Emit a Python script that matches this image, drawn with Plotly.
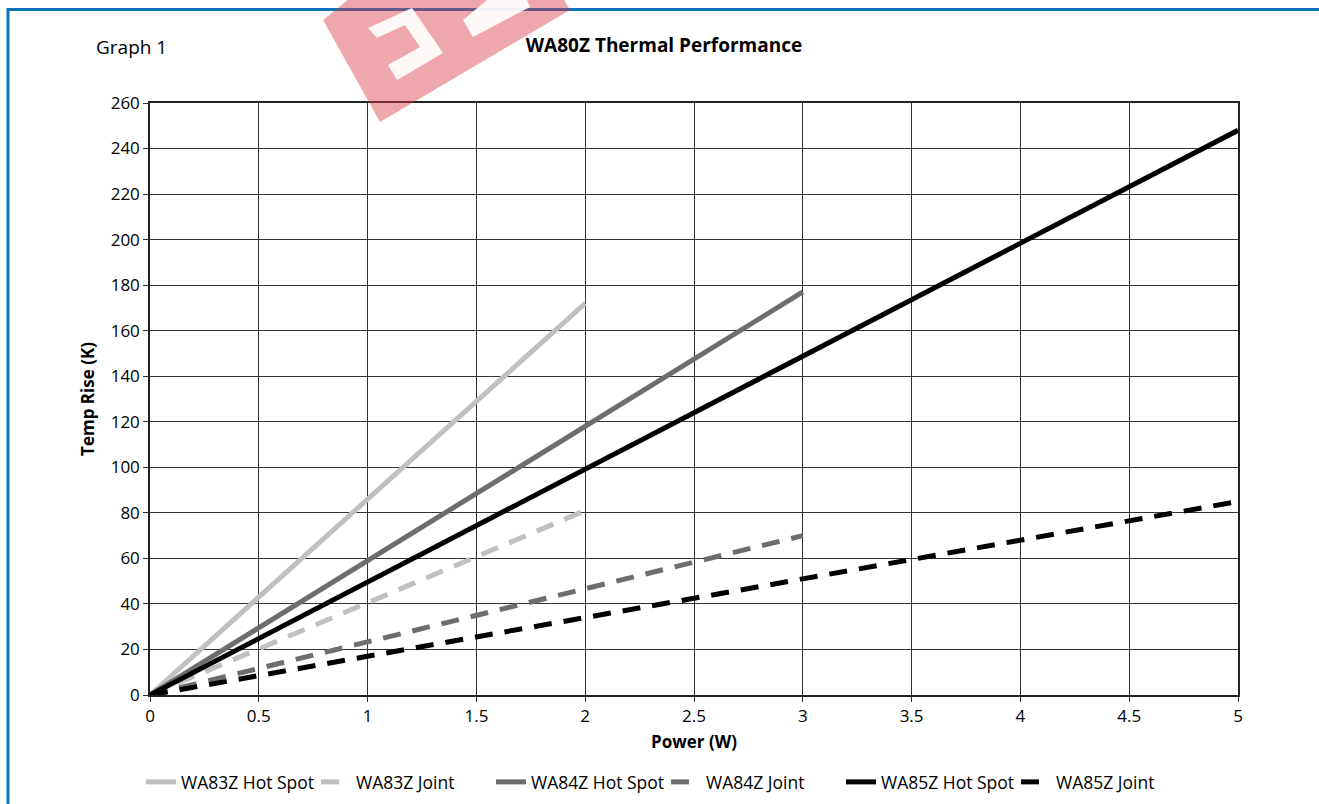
import plotly.graph_objects as go

# ---- data ----
wa83_power = [0, 0.5, 1.0, 1.5, 2.0]
wa83_hot = [0, 43, 86, 129, 172]
wa83_joint = [0, 20.3, 40.5, 60.8, 81]

wa84_power = [0, 0.5, 1.0, 1.5, 2.0, 2.5, 3.0]
wa84_hot = [0, 29.5, 59, 88.5, 118, 147.5, 177]
wa84_joint = [0, 11.7, 23.4, 35, 46.7, 58.4, 70]

wa85_power = [0, 0.5, 1.0, 1.5, 2.0, 2.5, 3.0, 3.5, 4.0, 4.5, 5.0]
wa85_hot = [0, 24.8, 49.6, 74.4, 99.2, 124, 148.8, 173.6, 198.4, 223.2, 248]
wa85_joint = [0, 8.5, 17, 25.5, 34, 42.5, 51, 59.5, 68, 76.5, 85]

x_ticks = [0, 0.5, 1, 1.5, 2, 2.5, 3, 3.5, 4, 4.5, 5]
x_tick_labels = ["0", "0.5", "1", "1.5", "2", "2.5", "3", "3.5", "4", "4.5", "5"]
y_ticks = list(range(0, 261, 20))

W, H = 1319, 804
L, R, T, B = 150, 1238, 103, 695
FONT = "Open Sans"

LIGHT = "#c0c0c0"
MID = "#6d6d6d"
DARK = "#000000"
DASH = "18px,12px"

fig = go.Figure()
series = [
    ("WA83Z Hot Spot", wa83_power, wa83_hot, LIGHT, "solid"),
    ("WA83Z Joint", wa83_power, wa83_joint, LIGHT, DASH),
    ("WA84Z Hot Spot", wa84_power, wa84_hot, MID, "solid"),
    ("WA84Z Joint", wa84_power, wa84_joint, MID, DASH),
    ("WA85Z Hot Spot", wa85_power, wa85_hot, DARK, "solid"),
    ("WA85Z Joint", wa85_power, wa85_joint, DARK, DASH),
]
for name, xs, ys, col, dash in series:
    fig.add_trace(go.Scatter(x=xs, y=ys, mode="lines", name=name,
                             line=dict(color=col, width=5, dash=dash)))


def px(xp):
    return (xp - L) / (R - L)


def py(yp):
    return (B - yp) / (B - T)


def poly(pts):
    return "M " + " L ".join(f"{px(a):.5f},{py(b):.5f}" for a, b in pts) + " Z"


shapes = [
    # blue frame
    dict(type="line", xref="paper", yref="paper", x0=px(8), x1=px(1319), y0=py(9.5), y1=py(9.5),
         line=dict(color="#0a72b8", width=3), layer="above"),
    dict(type="line", xref="paper", yref="paper", x0=px(8), x1=px(8), y0=py(8), y1=py(804),
         line=dict(color="#0a72b8", width=3), layer="above"),
    # watermark
    dict(type="path", xref="paper", yref="paper",
         path=poly([(323, 20), (380, 122), (570, 10), (563, -2), (350, -2)]),
         fillcolor="rgba(220,60,75,0.45)", line=dict(width=0), layer="above"),
    dict(type="path", xref="paper", yref="paper",
         path=poly([(368, 28), (412, 8), (443, 53), (397, 80), (388, 65), (420, 47), (405, 25), (377, 38)]),
         fillcolor="rgba(255,255,255,0.92)", line=dict(width=0), layer="above"),
    dict(type="path", xref="paper", yref="paper",
         path=poly([(463, 20), (473, 37), (530, 7), (527, 0), (487, 0)]),
         fillcolor="rgba(255,255,255,0.92)", line=dict(width=0), layer="above"),
]

fig.update_layout(
    width=W, height=H,
    margin=dict(l=L, r=W - R, t=T, b=H - B, pad=0, autoexpand=False),
    paper_bgcolor="white", plot_bgcolor="white",
    font=dict(family=FONT, size=17, color="#000"),
    title=dict(text="<b>WA80Z Thermal Performance</b>", x=664 / W, xref="container", xanchor="center",
               y=1 - 45 / H, yref="container", yanchor="middle", font=dict(size=19, family=FONT)),
    showlegend=True,
    legend=dict(orientation="h", x=666 / W, xanchor="center", xref="container",
                y=1 - 782 / H, yanchor="middle", yref="container",
                font=dict(size=17.5, family=FONT), itemwidth=30, tracegroupgap=0,
                entrywidth=130, entrywidthmode="pixels",
                bgcolor="rgba(0,0,0,0)"),
    shapes=shapes,
    annotations=[dict(text="Graph 1", xref="paper", yref="paper", x=px(94), y=py(47),
                      xanchor="left", yanchor="middle", showarrow=False,
                      font=dict(size=19, family=FONT))],
)

fig.update_xaxes(range=[0, 5], tickvals=x_ticks, ticktext=x_tick_labels,
                 showgrid=True, gridcolor="#333", gridwidth=1,
                 showline=True, linecolor="#222", linewidth=1.5, mirror=True,
                 ticks="outside", ticklen=5, tickcolor="#333", zeroline=False,
                 tickfont=dict(size=17), automargin=False,
                 title=dict(text="<b>Power (W)</b>", font=dict(size=17), standoff=10))
fig.update_yaxes(range=[0, 260], tickvals=y_ticks,
                 showgrid=True, gridcolor="#333", gridwidth=1,
                 showline=True, linecolor="#222", linewidth=1.5, mirror=True,
                 ticks="outside", ticklen=5, tickcolor="#333", zeroline=False,
                 tickfont=dict(size=17), automargin=False,
                 title=dict(text="<b>Temp Rise (K)</b>", font=dict(size=17), standoff=12))

fig.write_html("out.html", config={"displayModeBar": False},
               post_script="document.body.style.margin='0px';")
